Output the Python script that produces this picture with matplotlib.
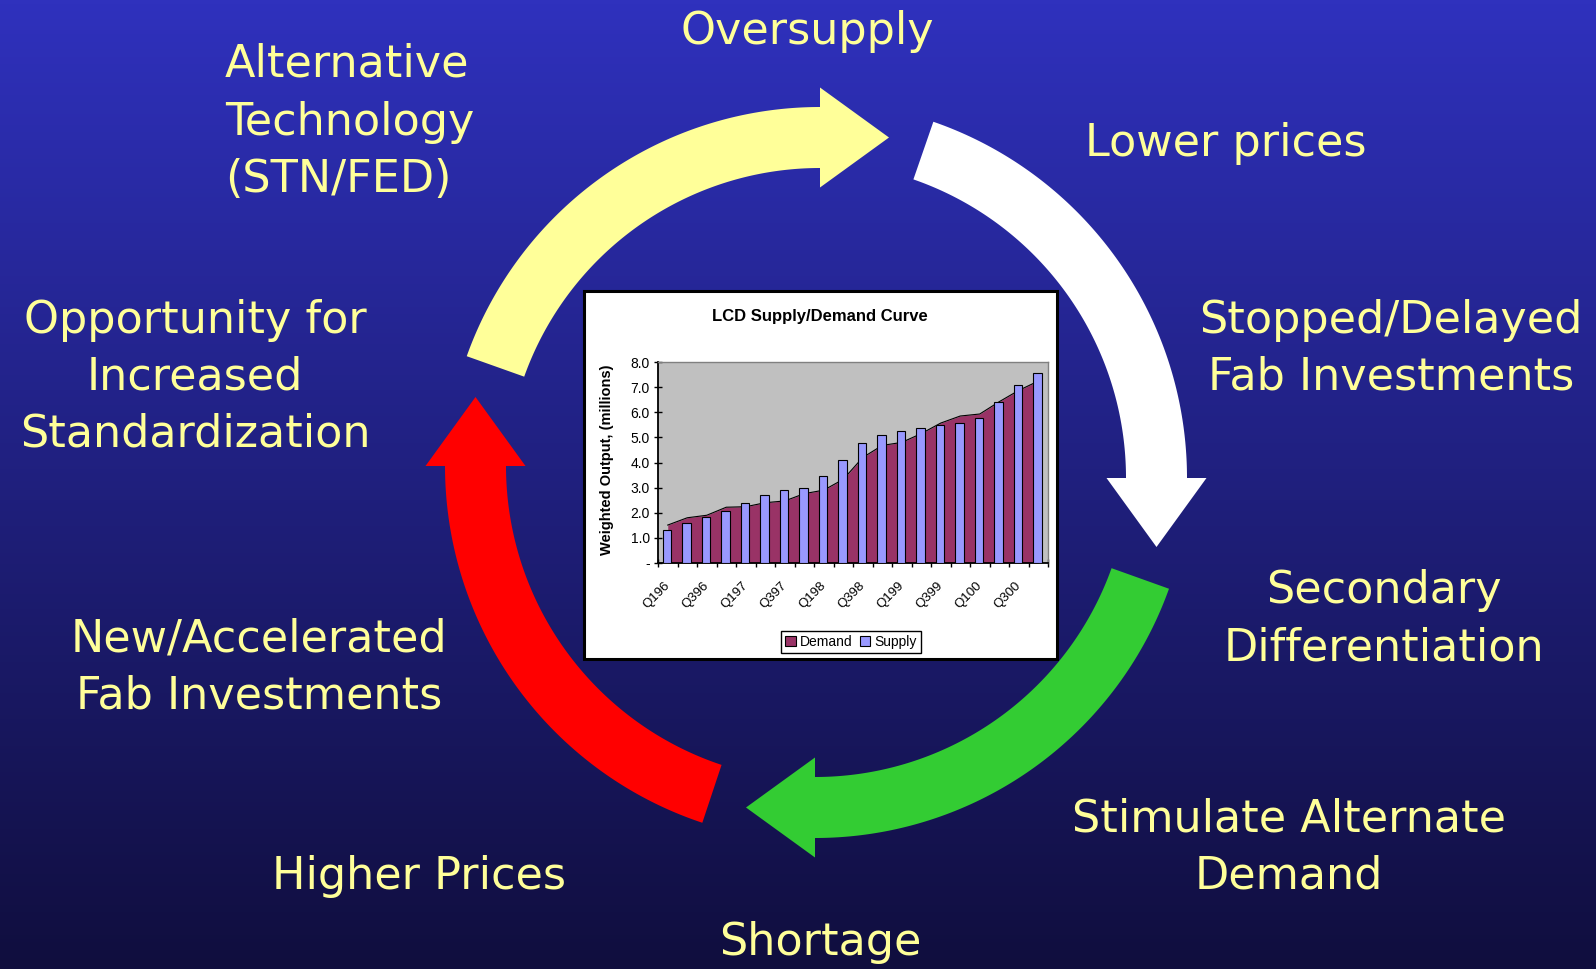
import numpy as np
import matplotlib
matplotlib.use("Agg")
import matplotlib.pyplot as plt
from matplotlib.patches import Polygon, Rectangle, Patch

# ---------------- data ----------------
quarters = ["Q196", "Q296", "Q396", "Q496", "Q197", "Q297", "Q397", "Q497",
            "Q198", "Q298", "Q398", "Q498", "Q199", "Q299", "Q399", "Q499",
            "Q100", "Q200", "Q300", "Q400"]
demand = [1.51, 1.80, 1.90, 2.22, 2.24, 2.40, 2.47, 2.76, 2.90, 3.33,
          4.20, 4.68, 4.80, 5.15, 5.57, 5.85, 5.93, 6.42, 6.87, 7.24]
supply = [1.33, 1.58, 1.85, 2.08, 2.40, 2.70, 2.89, 2.98, 3.48, 4.11,
          4.79, 5.10, 5.27, 5.37, 5.51, 5.59, 5.78, 6.39, 7.07, 7.58]
y_ticks = [0, 1, 2, 3, 4, 5, 6, 7, 8]
y_tick_labels = ["-", "1.0", "2.0", "3.0", "4.0", "5.0", "6.0", "7.0", "8.0"]

chart_title = "LCD Supply/Demand Curve"
y_label = "Weighted Output, (millions)"
series_names = ["Demand", "Supply"]

# (lines, x, line y positions, horizontal alignment)
cycle_labels = [
    (["Oversupply"], 807, [31], "center"),
    (["Lower prices"], 1226, [143], "center"),
    (["Stopped/Delayed", "Fab Investments"], 1391, [320, 377], "center"),
    (["Secondary", "Differentiation"], 1384, [591, 648], "center"),
    (["Stimulate Alternate", "Demand"], 1289, [819, 876], "center"),
    (["Shortage"], 820, [942], "center"),
    (["Higher Prices"], 419, [877], "center"),
    (["New/Accelerated", "Fab Investments"], 259, [639, 696], "center"),
    (["Opportunity for", "Increased", "Standardization"], 195, [320, 377, 434], "center"),
    (["Alternative", "Technology", "(STN/FED)"], 225, [64, 122, 179], "left"),
]

W, H = 1596, 969
fig = plt.figure(figsize=(W / 100, H / 100), dpi=100)

# ---------------- background ----------------
ax0 = fig.add_axes([0, 0, 1, 1])
ax0.set_xlim(0, W)
ax0.set_ylim(H, 0)
ax0.axis("off")
top = np.array([47, 49, 189]) / 255.0
bot = np.array([16, 14, 62]) / 255.0
t = np.linspace(0, 1, 256)[:, None, None]
grad = top[None, None, :] * (1 - t) + bot[None, None, :] * t
ax0.imshow(grad, extent=(0, W, H, 0), aspect="auto", zorder=0)


def arc_arrow(cx, cy, r_out, width, th_start, th_end, head_half, head_len, color):
    r_in = r_out - width
    rm = r_out - width / 2
    th = np.radians(np.linspace(th_start, th_end, 120))
    outer = np.column_stack([cx + r_out * np.cos(th), cy - r_out * np.sin(th)])
    inner = np.column_stack([cx + r_in * np.cos(th), cy - r_in * np.sin(th)])[::-1]
    te = np.radians(th_end)
    d = np.array([np.sin(te), np.cos(te)])
    b1 = np.array([cx + (rm + head_half) * np.cos(te), cy - (rm + head_half) * np.sin(te)])
    b2 = np.array([cx + (rm - head_half) * np.cos(te), cy - (rm - head_half) * np.sin(te)])
    mid = np.array([cx + rm * np.cos(te), cy - rm * np.sin(te)])
    tip = mid + head_len * d
    pts = np.vstack([outer, b1, tip, b2, inner])
    ax0.add_patch(Polygon(pts, closed=True, fc=color, ec="none", zorder=2))


arc_arrow(820, 482, 375, 61, 160.4, 90, 50, 69, "#ffff99")
arc_arrow(810, 478, 377, 61, 70.9, 0, 50, 69, "#ffffff")
arc_arrow(815, 462, 376, 61, -19.7, -90, 50, 69, "#33cc33")
arc_arrow(821, 466, 376, 61, 251.6, 180, 50, 69, "#ff0000")

for lines, cx, ys, ha in cycle_labels:
    for s, y in zip(lines, ys):
        ax0.text(cx, y, s, color="#ffff99", fontsize=32, family="DejaVu Sans",
                 ha=ha, va="center", zorder=3)

# ---------------- inset chart frame ----------------
ax0.add_patch(Rectangle((584, 291), 473, 368, fc="white", ec="black", lw=2.2, zorder=3))
ax0.text(820, 316, chart_title, family="Liberation Sans", weight="bold",
         fontsize=12, ha="center", va="center", zorder=4)
ax0.text(607, 460, y_label, family="Liberation Sans", weight="bold",
         fontsize=10.5, ha="center", va="center", rotation=90, zorder=4)

# ---------------- inset plot ----------------
pl, pr, pt, pb = 658, 1048, 362, 563
ax = fig.add_axes([pl / W, 1 - pb / H, (pr - pl) / W, (pb - pt) / H])
ax.set_facecolor("#c0c0c0")
x = np.arange(len(quarters))
ax.fill_between(x, demand, 0, color="#993366", lw=0, zorder=2)
ax.plot(x, demand, color="black", lw=0.8, zorder=2.5)
ax.bar(x - 0.03, supply, width=0.43, color="#9999ff", edgecolor="black", lw=0.8, zorder=3)
ax.set_xlim(-0.5, len(quarters) - 0.5)
ax.set_ylim(0, 8)
ax.set_yticks(y_ticks)
ax.set_yticklabels(y_tick_labels, family="Liberation Sans", fontsize=10)
ax.set_xticks(x[::2])
ax.set_xticklabels(quarters[::2], family="Liberation Sans", fontsize=9.5,
                   rotation=45, ha="right", va="center", rotation_mode="anchor")
ax.set_xticks(np.arange(-0.5, len(quarters), 1), minor=True)
ax.tick_params(axis="x", which="major", length=0, pad=15)
ax.tick_params(axis="x", which="minor", direction="inout", length=6, width=1)
ax.tick_params(axis="y", direction="inout", length=6, width=1, pad=3)
for s in ["left", "bottom"]:
    ax.spines[s].set_color("black")
    ax.spines[s].set_linewidth(1.3)
for s in ["top", "right"]:
    ax.spines[s].set_color("#808080")
    ax.spines[s].set_linewidth(1.0)

handles = [Patch(fc="#993366", ec="black", lw=0.8), Patch(fc="#9999ff", ec="black", lw=0.8)]
leg = ax.legend(handles, series_names, loc="center", ncol=2,
                bbox_to_anchor=(851 / W, 1 - 642 / H), bbox_transform=fig.transFigure,
                frameon=True, fancybox=False, edgecolor="black", framealpha=1,
                handlelength=0.75, handleheight=0.75, handletextpad=0.3,
                columnspacing=0.5, borderpad=0.3,
                prop={"family": "Liberation Sans", "size": 10})
leg.get_frame().set_linewidth(1.0)

fig.savefig("out.png", dpi=100)
